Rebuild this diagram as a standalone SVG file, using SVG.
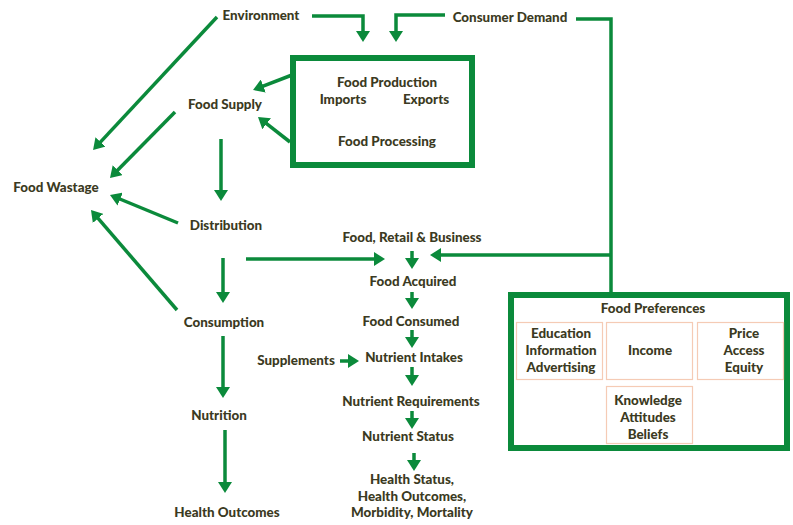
<svg xmlns="http://www.w3.org/2000/svg" width="793" height="525" viewBox="0 0 793 525">
<defs>
<marker id="ah" markerUnits="userSpaceOnUse" markerWidth="11" markerHeight="14" refX="3" refY="7" orient="auto">
<path d="M0,0 L11,7 L0,14 z" fill="#0b8a3b"/>
</marker>
<style>
text{font-family:Lato,"Noto Sans","Liberation Sans",sans-serif;font-weight:900;font-size:13.4px;fill:#3b3a22;text-anchor:middle}
.c{fill:none;stroke:#0b8a3b;stroke-width:3.5}
.a{marker-end:url(#ah)}
.big{fill:#fff;stroke:#0b8a3b;stroke-width:6}
.sub{fill:none;stroke:#f5cbb5;stroke-width:1.2}
</style>
</defs>
<rect width="793" height="525" fill="#fff"/>
<g id="connectors">
<path class="c a" d="M312,16 H363 V34"/>
<path class="c a" d="M445,15 H396 V34"/>
<path class="c" d="M576,19 H611 V293"/>
<path class="c a" d="M611,255 H438"/>
<path class="c a" d="M246,259 H377"/>
<path class="c a" d="M292,75 L260.5,87.1"/>
<path class="c a" d="M290,142 L264.3,121.9"/>
<path class="c a" d="M217,17 L98.5,144.1"/>
<path class="c a" d="M175,112 L115.6,172.3"/>
<path class="c a" d="M178,223 L117.4,198"/>
<path class="c a" d="M177,310 L96.2,216.1"/>
<path class="c a" d="M221,139 V193"/>
<path class="c a" d="M223,258 V295"/>
<path class="c a" d="M223,336 V390"/>
<path class="c a" d="M225,430 V485"/>
<path class="c a" d="M387,105 V124"/>
<path class="c a" d="M412,251 V261"/>
<path class="c a" d="M412,292 V301"/>
<path class="c a" d="M412,330 V340"/>
<path class="c a" d="M412,367 V378"/>
<path class="c a" d="M412,411 V421"/>
<path class="c a" d="M414,453 V463"/>
<path class="c a" d="M340,361 H351"/>
</g>
<g id="environment"><text x="261" y="20">Environment</text></g>
<g id="consumer-demand"><text x="510" y="22">Consumer Demand</text></g>
<g id="food-production-box">
<rect class="big" x="293" y="58" width="179" height="107"/>
<text x="387" y="87">Food Production</text>
<text x="343" y="104">Imports</text>
<text x="426" y="104">Exports</text>
<text x="387" y="146">Food Processing</text>
</g>
<g id="food-supply"><text x="225" y="109">Food Supply</text></g>
<g id="food-wastage"><text x="56" y="192">Food Wastage</text></g>
<g id="distribution"><text x="226" y="230">Distribution</text></g>
<g id="consumption"><text x="224" y="327">Consumption</text></g>
<g id="nutrition"><text x="219" y="420">Nutrition</text></g>
<g id="health-outcomes"><text x="227" y="517">Health Outcomes</text></g>
<g id="food-retail"><text x="412" y="242">Food, Retail &amp; Business</text></g>
<g id="food-acquired"><text x="413" y="286">Food Acquired</text></g>
<g id="food-consumed"><text x="411" y="326">Food Consumed</text></g>
<g id="supplements"><text x="296" y="365">Supplements</text></g>
<g id="nutrient-intakes"><text x="414" y="362">Nutrient Intakes</text></g>
<g id="nutrient-requirements"><text x="411" y="406">Nutrient Requirements</text></g>
<g id="nutrient-status"><text x="408" y="441">Nutrient Status</text></g>
<g id="health-status">
<text x="412" y="484">Health Status,</text>
<text x="412" y="501">Health Outcomes,</text>
<text x="412" y="517">Morbidity, Mortality</text>
</g>
<g id="food-preferences">
<rect class="big" x="511" y="295" width="276" height="153"/>
<text x="653" y="313">Food Preferences</text>
<rect class="sub" x="516.5" y="322.5" width="86" height="57"/>
<rect class="sub" x="606.5" y="322.5" width="86" height="57"/>
<rect class="sub" x="697.5" y="322.5" width="86" height="57"/>
<rect class="sub" x="606.5" y="386.5" width="86" height="57"/>
<text x="561" y="338">Education</text>
<text x="561" y="355">Information</text>
<text x="561" y="372">Advertising</text>
<text x="650" y="355">Income</text>
<text x="744" y="338">Price</text>
<text x="744" y="355">Access</text>
<text x="744" y="372">Equity</text>
<text x="648" y="405">Knowledge</text>
<text x="648" y="422">Attitudes</text>
<text x="648" y="439">Beliefs</text>
</g>
</svg>
